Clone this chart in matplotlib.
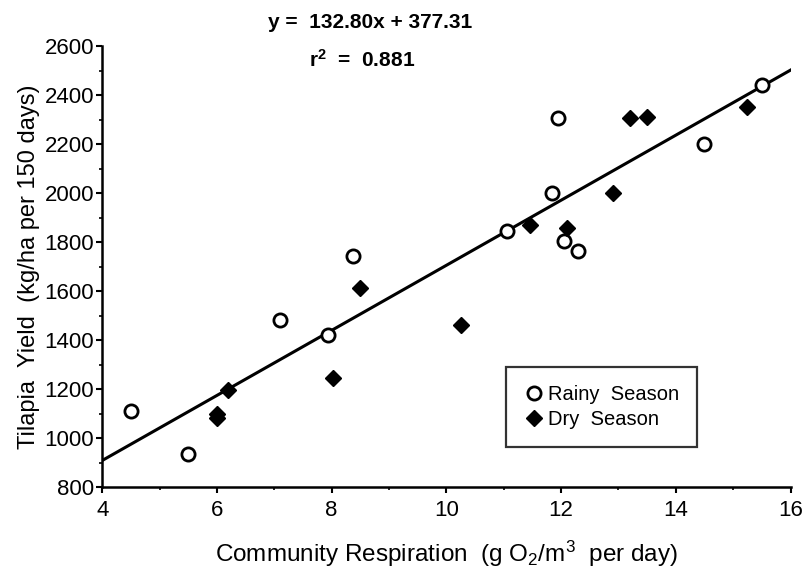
import matplotlib.pyplot as plt
import numpy as np
from matplotlib.ticker import MultipleLocator

plt.rcParams['font.family'] = ['Liberation Sans', 'DejaVu Sans']
plt.rcParams['mathtext.fontset'] = 'custom'
plt.rcParams['mathtext.rm'] = 'Liberation Sans'
plt.rcParams['mathtext.it'] = 'Liberation Sans'
plt.rcParams['mathtext.bf'] = 'Liberation Sans:bold'

# rainy season (open circles)
rainy_x = [4.5, 5.5, 7.1, 7.93, 8.37, 11.05, 11.85, 11.95, 12.05, 12.3, 14.5, 15.5]
rainy_y = [1110, 935, 1480, 1420, 1745, 1845, 2000, 2305, 1805, 1765, 2200, 2440]

# dry season (filled diamonds)
dry_x = [6.0, 6.0, 6.2, 8.02, 8.5, 10.25, 11.45, 12.1, 12.9, 13.2, 13.5, 15.25]
dry_y = [1100, 1082, 1195, 1245, 1612, 1460, 1868, 1858, 2002, 2308, 2310, 2352]

slope = 132.80
intercept = 377.31
r2 = 0.881

fig = plt.figure(figsize=(8.05, 5.84), dpi=100)
ax = fig.add_axes([0.127, 0.166, 0.855, 0.755])

xl = np.array([4, 16])
ax.plot(xl, slope * xl + intercept, color='black', lw=2.2, zorder=2)

ax.plot(rainy_x, rainy_y, 'o', ms=9.5, mfc='white', mec='black', mew=2.0,
        label='Rainy  Season', zorder=3)
ax.plot(dry_x, dry_y, 'D', ms=8, mfc='black', mec='black',
        label='Dry  Season', zorder=3)

ax.set_xlim(4, 16)
ax.set_ylim(800, 2600)
ax.xaxis.set_major_locator(MultipleLocator(2))
ax.xaxis.set_minor_locator(MultipleLocator(1))
ax.yaxis.set_major_locator(MultipleLocator(200))
ax.yaxis.set_minor_locator(MultipleLocator(100))

for s in ['top', 'right']:
    ax.spines[s].set_visible(False)
for s in ['left', 'bottom']:
    ax.spines[s].set_linewidth(1.8)

ax.tick_params(which='major', direction='out', length=4, width=1.5, labelsize=16, pad=2)
ax.tick_params(which='minor', direction='out', length=2, width=1.2)
ax.tick_params(axis='x', pad=5)

ax.set_xlabel(r'Community Respiration  (g O$_{2}$/m$^{3}$  per day)', fontsize=17.5, labelpad=13)
ax.set_ylabel('Tilapia  Yield  (kg/ha per 150 days)', fontsize=17, labelpad=3)

leg = ax.legend(loc='lower left', bbox_to_anchor=(0.586, 0.091), borderaxespad=0,
                fontsize=14.5, frameon=True, fancybox=False, edgecolor='black',
                handletextpad=0.2, handlelength=1.0, borderpad=0.9,
                labelspacing=0.3)
leg.get_frame().set_linewidth(1.6)

eq_font = ['Liberation Sans Narrow', 'Liberation Sans']
fig.text(0.46, 0.962, 'y =  132.80x + 377.31', fontsize=15, fontweight='bold',
         family=eq_font, ha='center', va='center')
fig.text(0.45, 0.898, r'r$^{\mathbf{2}}$  =  0.881', fontsize=15, fontweight='bold',
         family=eq_font, ha='center', va='center')

fig.savefig('out.png', dpi=100)
